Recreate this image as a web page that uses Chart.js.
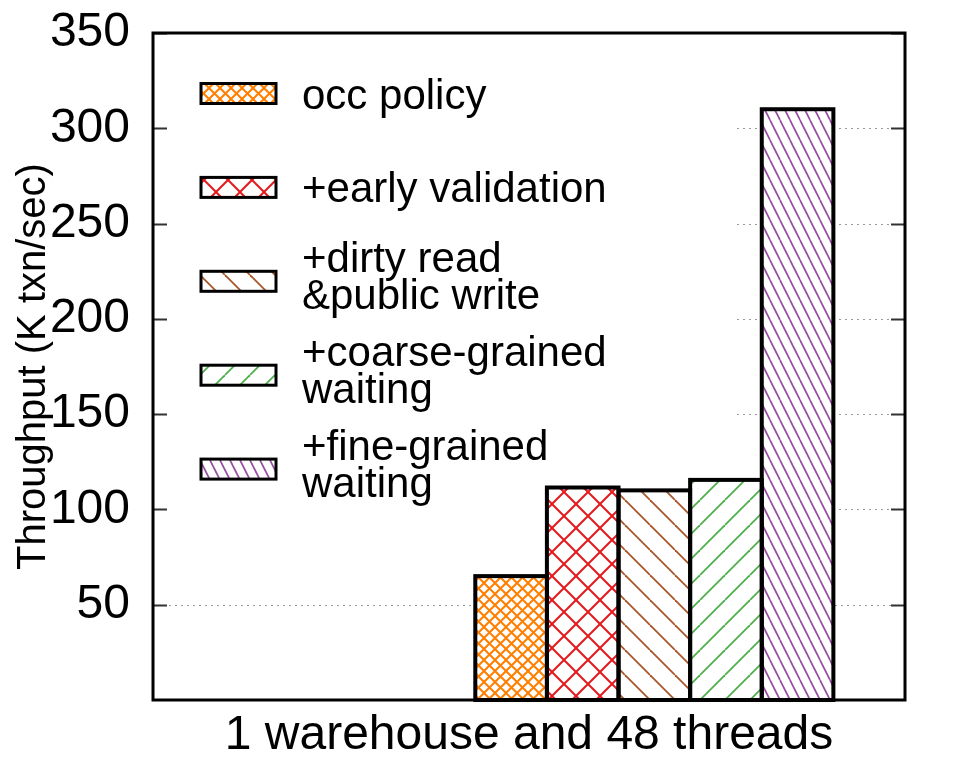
<!DOCTYPE html>
<html>
<head>
<meta charset="utf-8">
<script src="https://cdn.jsdelivr.net/npm/chart.js@4.4.0/dist/chart.umd.min.js"></script>
<style>
html, body { margin: 0; padding: 0; background: #ffffff; }
#wrap { width: 969px; height: 772px; }
</style>
</head>
<body>
<div id="wrap"><canvas id="chart" width="969" height="772"></canvas></div>
<script>
// ---------------- data ----------------
const categories = ['1 warehouse and 48 threads'];
const seriesLabels = [
  ['occ policy'],
  ['+early validation'],
  ['+dirty read', '&public write'],
  ['+coarse-grained', 'waiting'],
  ['+fine-grained', 'waiting']
];
const occPolicy = [65];
const earlyValidation = [111.5];
const dirtyReadPublicWrite = [110];
const coarseGrainedWaiting = [115.5];
const fineGrainedWaiting = [310];
const yTickValues = [50, 100, 150, 200, 250, 300, 350];
const yAxisTitle = 'Throughput (K txn/sec)';

// ---------------- styles ----------------
const seriesColors = ['#ff7f00', '#e41a1c', '#a65628', '#4daf4a', '#984ea3'];
const hatchSpecs = [
  { period: 11, slope: 1, dirs: ['\\', '/'], lw: 2 },
  { period: 24, slope: 1, dirs: ['\\', '/'], lw: 2 },
  { period: 25, slope: 1, dirs: ['\\'], lw: 1.8 },
  { period: 25, slope: 1, dirs: ['/'], lw: 1.8 },
  { period: 10, slope: 2, dirs: ['\\'], lw: 1.7 }
];
const FONT = "'Liberation Sans', Arial, Helvetica, sans-serif";
const LEAD_SLOTS = 4.5, TRAIL_SLOTS = 1;
const TICK_LEN = 14;
const PLOT_TOP = 33;
const KEY = { boxWidth: 584, boxHeight: 507, sampleLeft: 48, sampleW: 75, sampleH: 20,
              firstCenter: 60.5, step: 93.9, textLeft: 149, lineGap: 37, fontSize: 42 };

function makeHatch(color, spec) {
  const w = spec.period, h = Math.round(spec.period * spec.slope);
  const c = document.createElement('canvas');
  c.width = w; c.height = h;
  const g = c.getContext('2d');
  g.fillStyle = '#ffffff';
  g.fillRect(0, 0, w, h);
  g.strokeStyle = color;
  g.lineWidth = spec.lw;
  spec.dirs.forEach(d => {
    for (let k = -1; k <= 1; k++) {
      g.beginPath();
      if (d === '\\') { g.moveTo(k * w, 0); g.lineTo(k * w + w, h); }
      else { g.moveTo(k * w, h); g.lineTo(k * w + w, 0); }
      g.stroke();
    }
  });
  return g.createPattern(c, 'repeat');
}

const seriesValues = [occPolicy, earlyValidation, dirtyReadPublicWrite, coarseGrainedWaiting, fineGrainedWaiting];
const patterns = seriesColors.map((col, i) => makeHatch(col, hatchSpecs[i]));

const gnuplotLook = {
  id: 'gnuplotLook',
  beforeDatasetsDraw(chart) {
    const { ctx, chartArea: a, scales: { y } } = chart;
    const keyRight = a.left + KEY.boxWidth, keyBottom = a.top + KEY.boxHeight;
    ctx.save();
    ctx.strokeStyle = '#9a9a9a';
    ctx.lineWidth = 1;
    ctx.setLineDash([2, 4]);
    yTickValues.forEach(v => {
      if (v >= y.max || v <= y.min) return;
      const py = Math.round(y.getPixelForValue(v)) + 0.5;
      const x0 = py < keyBottom ? keyRight : a.left + TICK_LEN + 2;
      ctx.beginPath();
      ctx.moveTo(x0, py);
      ctx.lineTo(a.right - TICK_LEN, py);
      ctx.stroke();
    });
    ctx.restore();
  },
  afterDatasetsDraw(chart) {
    const { ctx, chartArea: a, scales: { y } } = chart;
    ctx.save();
    // bar outlines
    ctx.strokeStyle = '#000000';
    ctx.lineWidth = 4;
    ctx.lineJoin = 'miter';
    chart.data.datasets.forEach((ds, i) => {
      chart.getDatasetMeta(i).data.forEach(el => {
        const p = el.getProps(['x', 'y', 'base', 'width'], true);
        ctx.strokeRect(p.x - p.width / 2, p.y, p.width, p.base - p.y);
      });
    });
    // inward ticks (left & mirrored right)
    ctx.strokeStyle = '#333333';
    ctx.lineWidth = 2;
    yTickValues.forEach(v => {
      const py = Math.round(y.getPixelForValue(v)) + 0.5;
      ctx.beginPath();
      ctx.moveTo(a.left, py); ctx.lineTo(a.left + TICK_LEN, py);
      ctx.moveTo(a.right, py); ctx.lineTo(a.right - TICK_LEN, py);
      ctx.stroke();
    });
    // frame
    ctx.strokeStyle = '#000000';
    ctx.lineWidth = 3;
    ctx.strokeRect(a.left, a.top, a.right - a.left, a.bottom - a.top);
    // key
    ctx.font = KEY.fontSize + 'px ' + FONT;
    ctx.textAlign = 'left';
    ctx.textBaseline = 'alphabetic';
    seriesLabels.forEach((lines, i) => {
      const cy = a.top + KEY.firstCenter + i * KEY.step;
      const sx = a.left + KEY.sampleLeft;
      ctx.fillStyle = patterns[i];
      ctx.fillRect(sx, cy - KEY.sampleH / 2, KEY.sampleW, KEY.sampleH);
      ctx.lineWidth = 3;
      ctx.strokeStyle = '#000000';
      ctx.strokeRect(sx, cy - KEY.sampleH / 2, KEY.sampleW, KEY.sampleH);
      ctx.fillStyle = '#000000';
      const base0 = cy + 15 - (lines.length - 1) * 24;
      lines.forEach((t, j) => ctx.fillText(t, a.left + KEY.textLeft, base0 + j * KEY.lineGap));
    });
    ctx.restore();
  }
};

new Chart(document.getElementById('chart'), {
  type: 'bar',
  data: {
    labels: categories,
    datasets: seriesValues.map((vals, i) => ({
      label: seriesLabels[i].join(' '),
      data: vals.map(v => ({ x: LEAD_SLOTS + i + 0.5, y: v })),
      xAxisID: 'xb',
      yAxisID: 'y',
      backgroundColor: patterns[i],
      borderWidth: 0,
      grouped: false,
      barPercentage: 1,
      categoryPercentage: 1
    }))
  },
  options: {
    responsive: false,
    animation: false,
    devicePixelRatio: 1,
    layout: { padding: { left: 0, right: 64, top: 0, bottom: 0 } },
    plugins: { legend: { display: false }, tooltip: { enabled: false }, title: { display: false } },
    scales: {
      x: {
        type: 'category',
        position: 'bottom',
        offset: true,
        grid: { display: false, drawTicks: false },
        border: { display: false },
        ticks: { color: '#000000', font: { family: FONT, size: 48 }, padding: 7, maxRotation: 0 },
        afterFit: s => { s.height = 72; s.paddingLeft = 0; s.paddingRight = 0; }
      },
      xb: {
        type: 'linear',
        position: 'bottom',
        display: true,
        offset: false,
        min: 0,
        max: LEAD_SLOTS + seriesValues.length + TRAIL_SLOTS,
        grid: { display: false, drawTicks: false, offset: false },
        border: { display: false },
        ticks: { display: false, stepSize: 1.5 },
        afterFit: s => { s.height = 0; s.paddingLeft = 0; s.paddingRight = 0; }
      },
      y: {
        type: 'linear',
        position: 'left',
        min: 0,
        max: 350,
        grid: { display: false, drawTicks: false },
        border: { display: false },
        afterBuildTicks: s => { s.ticks = yTickValues.map(v => ({ value: v })); },
        ticks: { color: '#000000', font: { family: FONT, size: 48 }, padding: 23 },
        title: { display: true, text: yAxisTitle, color: '#000000',
                 font: { family: FONT, size: 40 }, padding: { top: 10, bottom: 0 } },
        afterFit: s => { s.width = 153; s.paddingTop = PLOT_TOP; s.paddingBottom = 0; }
      }
    }
  },
  plugins: [gnuplotLook]
});
</script>
</body>
</html>
